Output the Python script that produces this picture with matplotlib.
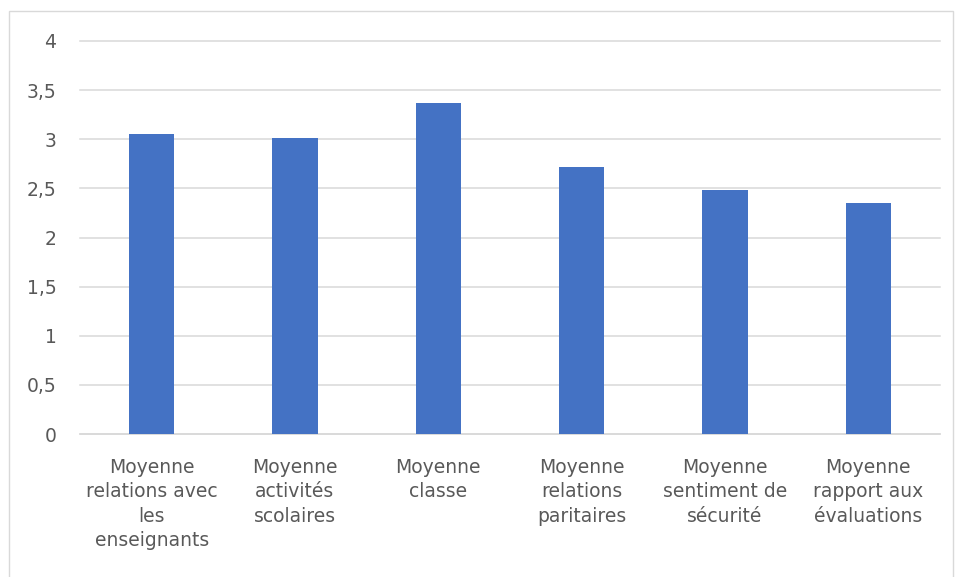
import matplotlib.pyplot as plt
from matplotlib.patches import Rectangle
from matplotlib.ticker import FuncFormatter

categories = ['Moyenne\nrelations avec\nles\nenseignants', 'Moyenne\nactivités\nscolaires',
              'Moyenne\nclasse', 'Moyenne\nrelations\nparitaires',
              'Moyenne\nsentiment de\nsécurité', 'Moyenne\nrapport aux\névaluations']
values = [3.05, 3.01, 3.37, 2.72, 2.48, 2.35]
yticks = [0, 0.5, 1, 1.5, 2, 2.5, 3, 3.5, 4]

plt.rcParams['font.family'] = ['DejaVu Sans']

fig = plt.figure(figsize=(9.55, 5.77), dpi=100)
ax = fig.add_axes([80 / 955, 143 / 577, 860 / 955, 393 / 577])

x = range(len(categories))
ax.bar(x, values, width=0.314, color='#4472C4', zorder=3)

ax.set_xlim(-0.5, len(categories) - 0.5)
ax.set_ylim(0, 4)
ax.set_yticks(yticks)
ax.yaxis.set_major_formatter(FuncFormatter(lambda v, p: ('%g' % v).replace('.', ',')))
ax.set_xticks(list(x))
ax.set_xticklabels(categories, linespacing=1.37)

ax.grid(axis='y', color='#d9d9d9', linewidth=1.1, zorder=0)
for gl in ax.get_ygridlines():
    gl.set_clip_on(False)
for s in ['top', 'right', 'left']:
    ax.spines[s].set_visible(False)
ax.spines['bottom'].set_color('#d9d9d9')
ax.spines['bottom'].set_linewidth(1.1)

ax.tick_params(axis='y', length=0, pad=17, labelsize=13.5, labelcolor='#595959')
ax.tick_params(axis='x', length=0, pad=17, labelsize=13.5, labelcolor='#595959')

fig.add_artist(Rectangle((9 / 955, -0.02), 944 / 955, (577 - 11) / 577 + 0.02,
                         transform=fig.transFigure, fill=False,
                         edgecolor='#d9d9d9', linewidth=1))

fig.savefig('out.png', dpi=100)
